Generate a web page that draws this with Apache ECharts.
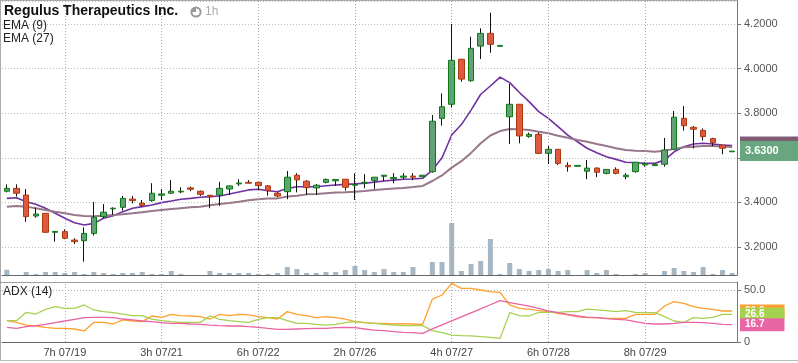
<!DOCTYPE html>
<html><head><meta charset="utf-8">
<script src="https://cdn.jsdelivr.net/npm/echarts@6/dist/echarts.min.js"></script>
<style>html,body{margin:0;padding:0;background:#fff;}#c{width:798px;height:363px;}</style>
</head><body><div id="c"></div>
<script>
const titleText = 'Regulus Therapeutics Inc.';
const tickIdx = [6, 16, 26, 36, 46, 56, 66];
const tickLabels = ['7h 07/19', '3h 07/21', '6h 07/22', '2h 07/26', '4h 07/27', '6h 07/28', '8h 07/29'];
// [open, close, low, high]
const ohlc = [
 [3.450,3.463,3.445,3.481],[3.463,3.441,3.426,3.481],[3.433,3.336,3.313,3.460],[3.339,3.348,3.331,3.376],
 [3.351,3.266,3.265,3.352],[3.266,3.270,3.224,3.270],[3.269,3.239,3.235,3.279],[3.231,3.224,3.213,3.239],
 [3.228,3.261,3.134,3.288],[3.261,3.333,3.251,3.402],[3.336,3.356,3.329,3.392],[3.371,3.374,3.344,3.378],
 [3.378,3.418,3.363,3.429],[3.415,3.408,3.396,3.429],[3.397,3.387,3.381,3.411],[3.408,3.441,3.403,3.486],
 [3.432,3.438,3.411,3.460],[3.441,3.450,3.438,3.500],[3.447,3.450,3.441,3.468],[3.465,3.459,3.450,3.471],
 [3.450,3.436,3.429,3.453],[3.432,3.426,3.374,3.432],[3.433,3.463,3.384,3.492],[3.460,3.474,3.433,3.474],
 [3.483,3.487,3.474,3.504],[3.490,3.486,3.486,3.500],[3.490,3.475,3.456,3.490],[3.474,3.453,3.430,3.478],
 [3.441,3.429,3.423,3.447],[3.448,3.513,3.414,3.541],[3.522,3.501,3.445,3.531],[3.495,3.466,3.433,3.500],
 [3.465,3.477,3.433,3.483],[3.490,3.503,3.486,3.507],[3.497,3.503,3.474,3.504],[3.504,3.468,3.453,3.504],
 [3.477,3.480,3.411,3.531],[3.486,3.490,3.463,3.527],[3.499,3.513,3.461,3.513],[3.517,3.522,3.495,3.522],
 [3.506,3.512,3.486,3.531],[3.513,3.518,3.504,3.531],[3.518,3.513,3.500,3.531],[3.515,3.522,3.513,3.522],
 [3.538,3.764,3.533,3.792],[3.777,3.829,3.744,3.889],[3.840,4.037,3.825,4.200],[4.042,3.953,3.941,4.042],
 [3.946,4.091,3.941,4.143],[4.101,4.158,4.043,4.181],[4.158,4.109,4.071,4.251],[4.100,4.104,4.100,4.104],
 [3.784,3.840,3.662,3.931],[3.840,3.698,3.665,3.840],[3.696,3.705,3.690,3.713],[3.705,3.620,3.617,3.713],
 [3.620,3.638,3.572,3.653],[3.638,3.575,3.568,3.638],[3.566,3.560,3.538,3.580],[3.562,3.566,3.562,3.566],
 [3.540,3.554,3.504,3.590],[3.554,3.535,3.513,3.557],[3.530,3.548,3.526,3.548],[3.548,3.530,3.526,3.557],
 [3.515,3.522,3.504,3.531],[3.538,3.580,3.533,3.580],[3.568,3.574,3.560,3.580],[3.565,3.571,3.565,3.571],
 [3.571,3.635,3.560,3.689],[3.638,3.782,3.635,3.810],[3.777,3.744,3.722,3.832],[3.737,3.728,3.642,3.743],
 [3.723,3.695,3.677,3.732],[3.686,3.668,3.653,3.690],[3.657,3.643,3.616,3.657],[3.627,3.630,3.627,3.630]
];
// volume, thousand shares
const volume = [21,0,12,4,12,12,8,12,4,12, 8,4,8,8,12,4,4,16,4,0, 0,16,8,8,8,8,4,4,8,32,
 24,8,8,12,12,20,36,20,12,24, 12,12,32,0,52,52,208,16,44,56, 144,4,48,24,16,20,24,16,20,0,
 20,8,20,4,0,4,8,0,16,28, 16,12,32,4,20,8];
const ema9 = [3.418,3.421,3.403,3.392,3.374,3.351,3.329,3.309,3.299,3.306,
 3.329,3.340,3.358,3.374,3.381,3.388,3.399,3.406,3.414,3.418,
 3.423,3.426,3.429,3.438,3.447,3.456,3.459,3.452,3.448,3.463,
 3.470,3.470,3.470,3.475,3.478,3.481,3.483,3.486,3.491,3.496,
 3.500,3.504,3.505,3.508,3.545,3.600,3.702,3.749,3.814,3.885,
 3.922,3.962,3.937,3.893,3.852,3.807,3.777,3.740,3.702,3.672,
 3.643,3.623,3.605,3.593,3.580,3.578,3.575,3.575,3.590,3.627,
 3.650,3.662,3.665,3.662,3.657,3.655];
const ema27 = [3.381,3.384,3.381,3.374,3.366,3.358,3.351,3.344,3.339,3.338,
 3.340,3.344,3.347,3.351,3.356,3.361,3.366,3.370,3.374,3.378,
 3.381,3.387,3.393,3.397,3.403,3.410,3.414,3.417,3.418,3.426,
 3.430,3.436,3.438,3.441,3.444,3.445,3.448,3.451,3.456,3.459,
 3.462,3.465,3.469,3.474,3.496,3.521,3.556,3.585,3.622,3.665,
 3.700,3.720,3.729,3.728,3.725,3.717,3.710,3.699,3.690,3.680,
 3.672,3.662,3.653,3.643,3.635,3.632,3.631,3.627,3.632,3.640,
 3.647,3.650,3.653,3.653,3.651,3.648];
const adxOrange = [20.5,18.9,16.3,15.4,14.1,13.1,13.1,12.5,10.6,18.9,
 18.9,17.3,21.2,20.2,19.6,25.0,23.7,26.6,25.3,25.0,
 24.4,22.1,26.6,25.3,26.6,26.0,24.4,23.4,22.1,29.2,
 26.6,25.3,23.4,24.4,23.4,22.1,19.6,18.6,17.9,17.9,
 17.3,17.6,17.3,17.0,41.3,45.2,56.4,51.6,51.6,50.0,
 48.4,47.8,35.6,32.4,31.7,30.1,29.2,27.6,26.0,24.4,
 23.4,23.4,22.8,22.8,22.8,26.6,26.6,26.6,34.6,38.8,
 37.2,34.0,32.4,31.4,29.8,29.8];
const adxGreen = [20.5,20.5,28.5,26.9,31.4,34.0,32.4,32.4,35.6,30.8,
 29.2,28.2,26.9,25.3,25.3,22.1,20.5,19.6,18.9,18.9,
 18.9,25.0,21.8,20.5,19.6,18.9,21.8,23.4,23.4,20.5,
 17.9,17.9,17.0,16.3,17.0,18.6,19.6,18.6,17.9,17.0,
 16.3,15.7,15.7,15.7,10.9,9.0,6.7,6.1,5.8,5.1,
 4.5,3.5,28.2,25.3,25.0,28.5,28.5,28.5,29.2,29.2,
 31.7,30.8,30.1,29.2,30.1,28.5,28.2,28.2,24.4,20.2,
 18.9,23.4,22.8,23.7,26.6,26.6];
const adxPink = [14.1,13.1,14.7,15.7,17.0,18.6,20.2,21.8,23.4,23.7,
 23.7,23.4,22.1,21.2,20.2,19.6,18.6,17.9,17.9,17.3,
 17.0,16.3,15.7,15.4,15.4,14.7,14.1,13.1,12.2,12.2,
 12.5,12.8,13.1,13.1,13.8,14.1,13.8,12.5,11.5,10.9,
 9.9,9.3,9.0,8.3,12.6,16.5,20.4,24.2,28.1,31.9,
 35.8,39.7,37.8,36.2,34.6,32.4,29.8,28.2,26.6,25.0,
 24.0,23.4,22.4,21.8,21.2,19.6,17.9,17.3,17.3,17.9,
 18.9,18.9,18.6,17.9,17.0,16.7];

const bars = ohlc.map((_, i) => String(i));
const last = ohlc.length - 1;
const FONT = '"Liberation Sans", Arial, Helvetica, sans-serif';

function badge(value, bg, txt, fs, pad) {
  return {
    yAxis: value,
    symbol: 'none',
    lineStyle: { color: 'rgba(0,0,0,0)', width: 1, opacity: 1 },
    label: {
      show: true, position: 'end', distance: 3, formatter: txt, opacity: 1,
      color: '#fff', fontWeight: 'bold', fontSize: fs, fontFamily: FONT,
      backgroundColor: bg, padding: pad, lineHeight: fs
    }
  };
}
function vLines() {
  return tickIdx.map(i => ({
    xAxis: bars[i], label: { show: false },
    lineStyle: { type: [1, 2], color: '#aaaaaa', width: 1, opacity: 1 }
  }));
}

const chart = echarts.init(document.getElementById('c'), null, { renderer: 'canvas' });
chart.setOption({
  animation: false,
  backgroundColor: '#fff',
  textStyle: { fontFamily: FONT },
  grid: [
    { left: 2, right: 61, top: 1, height: 274, outerBoundsMode: 'none' },
    { left: 2, right: 61, top: 282, height: 60, outerBoundsMode: 'none' }
  ],
  xAxis: [
    { type: 'category', gridIndex: 0, data: bars, boundaryGap: true,
      axisLine: { show: true, lineStyle: { color: '#666' } }, axisTick: { show: false },
      axisLabel: { show: false }, splitLine: { show: false } },
    { type: 'category', gridIndex: 1, data: bars, boundaryGap: true,
      axisLine: { show: true, lineStyle: { color: '#666' } }, axisTick: { show: false },
      axisLabel: { interval: (i) => tickIdx.includes(i),
        formatter: (v, i) => { const k = tickIdx.indexOf(i); return k >= 0 ? tickLabels[k] : ''; },
        color: '#444', fontSize: 11, margin: 5, fontFamily: FONT },
      splitLine: { show: false } }
  ],
  yAxis: [
    { type: 'value', gridIndex: 0, position: 'right', min: 3.07444, max: 4.30314,
      axisLine: { show: true, lineStyle: { color: '#777' } },
      axisTick: { show: true, length: 4, lineStyle: { color: '#777' } },
      axisLabel: { formatter: v => v.toFixed(4), color: '#555', fontSize: 11, margin: 7,
        showMinLabel: false, showMaxLabel: false, fontFamily: FONT },
      splitLine: { show: true, lineStyle: { type: [1, 2], color: '#a9c9a9' } } },
    { type: 'value', gridIndex: 0, min: 0, max: 1096, show: false, splitLine: { show: false } },
    { type: 'value', gridIndex: 1, position: 'right', min: 0, max: 57.7, interval: 50,
      axisLine: { show: true, lineStyle: { color: '#777' } },
      axisTick: { show: true, length: 4, lineStyle: { color: '#777' } },
      axisLabel: { formatter: v => v === 0 ? '0' : v.toFixed(1), color: '#555', fontSize: 11, margin: 7,
        showMaxLabel: false, fontFamily: FONT },
      splitLine: { show: true, lineStyle: { type: [1, 2], color: '#aaaaaa' } } }
  ],
  series: [
    { type: 'bar', name: 'Volume', xAxisIndex: 0, yAxisIndex: 1, data: volume, barWidth: 5,
      itemStyle: { color: '#a6b7c4' }, z: 1, silent: true,
      markLine: { silent: true, symbol: 'none', animation: false, data: vLines() } },
    { type: 'line', name: 'EMA (9)', xAxisIndex: 0, yAxisIndex: 0, data: ema9, symbol: 'none',
      lineStyle: { color: '#7030a0', width: 1.6 }, z: 3, silent: true, clip: false,
      markLine: { silent: true, symbol: 'none', animation: false, z: 7,
        data: [badge(ema9[last], '#6d2b91', ema9[last].toFixed(4), 11, [5, 20, 4, 5])] } },
    { type: 'line', name: 'EMA (27)', xAxisIndex: 0, yAxisIndex: 0, data: ema27, symbol: 'none',
      lineStyle: { color: '#97778a', width: 2 }, z: 4, silent: true, clip: false,
      markLine: { silent: true, symbol: 'none', animation: false, z: 8,
        data: [badge(ema27[last], '#7f5d70', ema27[last].toFixed(4), 11, [5, 20, 4, 5])] } },
    { type: 'candlestick', name: 'wick', xAxisIndex: 0, yAxisIndex: 0, data: ohlc.map(d => [d[0], d[1], d[2], d[3]]),
      barWidth: 1, z: 5, silent: true,
      itemStyle: { color: '#111', color0: '#111', borderColor: '#111', borderColor0: '#111', borderWidth: 1 } },
    { type: 'candlestick', name: 'price', xAxisIndex: 0, yAxisIndex: 0, clip: false,
      data: ohlc.map(d => [d[0], d[1], Math.min(d[0], d[1]), Math.max(d[0], d[1])]),
      barWidth: 6, z: 6, silent: true,
      itemStyle: { color: '#62a176', color0: '#df5840', borderColor: '#0b7a12', borderColor0: '#ad3a0d', borderWidth: 1 },
      markLine: { silent: true, symbol: 'none', animation: false, z: 9,
        data: [badge(ohlc[last][1], '#67a67f', ohlc[last][1].toFixed(4), 11, [5, 20, 4, 5])] } },
    { type: 'line', name: '+DI', xAxisIndex: 1, yAxisIndex: 2, data: adxOrange, symbol: 'none',
      lineStyle: { color: '#ffa02e', width: 1.3 }, z: 3, silent: true, clip: false,
      markLine: { silent: true, symbol: 'none', animation: false, z: 7,
        data: vLines().concat([badge(adxOrange[last], '#ff9f2e', adxOrange[last].toFixed(1), 10, [2, 20, 1, 5])]) } },
    { type: 'line', name: '-DI', xAxisIndex: 1, yAxisIndex: 2, data: adxGreen, symbol: 'none',
      lineStyle: { color: '#a6d14f', width: 1.3 }, z: 4, silent: true, clip: false,
      markLine: { silent: true, symbol: 'none', animation: false, z: 8,
        data: [badge(adxGreen[last], '#a6d14f', adxGreen[last].toFixed(1), 10, [2, 20, 1, 5])] } },
    { type: 'line', name: 'ADX', xAxisIndex: 1, yAxisIndex: 2, data: adxPink, symbol: 'none',
      lineStyle: { color: '#ea62a3', width: 1.3 }, z: 5, silent: true, clip: false,
      markLine: { silent: true, symbol: 'none', animation: false, z: 9,
        data: [badge(adxPink[last], '#e866a6', adxPink[last].toFixed(1), 10, [2, 20, 1, 5])] } }
  ],
  graphic: [
    { type: 'line', shape: { x1: 0.5, y1: 0, x2: 0.5, y2: 360 }, style: { stroke: '#aaa', lineWidth: 1 }, silent: true },
    { type: 'line', shape: { x1: 0, y1: 0.5, x2: 738, y2: 0.5 }, style: { stroke: '#aaa', lineWidth: 1 }, silent: true },
    { type: 'line', shape: { x1: 0, y1: 282.5, x2: 738, y2: 282.5 }, style: { stroke: '#999', lineWidth: 1 }, silent: true },
    { type: 'line', shape: { x1: 0, y1: 360.5, x2: 798, y2: 360.5 }, style: { stroke: '#bbb', lineWidth: 1 }, silent: true },
    { type: 'text', left: 4, top: 4, style: { text: titleText, font: 'bold 14px ' + FONT, fill: '#111' }, z: 20 },
    { type: 'circle', shape: { cx: 196, cy: 12, r: 5.6 }, style: { fill: '#9a9a9a' }, z: 20 },
    { type: 'sector', shape: { cx: 196, cy: 12, r: 3.6, r0: 0, startAngle: -Math.PI / 2, endAngle: Math.PI }, style: { fill: '#fff' }, z: 21 },
    { type: 'text', left: 205, top: 6, style: { text: '1h', font: '12px ' + FONT, fill: '#aaa' }, z: 20 },
    { type: 'text', left: 3, top: 20, style: { text: 'EMA (9)', font: '12px ' + FONT, fill: '#222' }, z: 20 },
    { type: 'text', left: 3, top: 33, style: { text: 'EMA (27)', font: '12px ' + FONT, fill: '#222' }, z: 20 },
    { type: 'text', left: 3, top: 286, style: { text: 'ADX (14)', font: '12px ' + FONT, fill: '#222' }, z: 20 }
  ]
});
</script>
</body></html>
